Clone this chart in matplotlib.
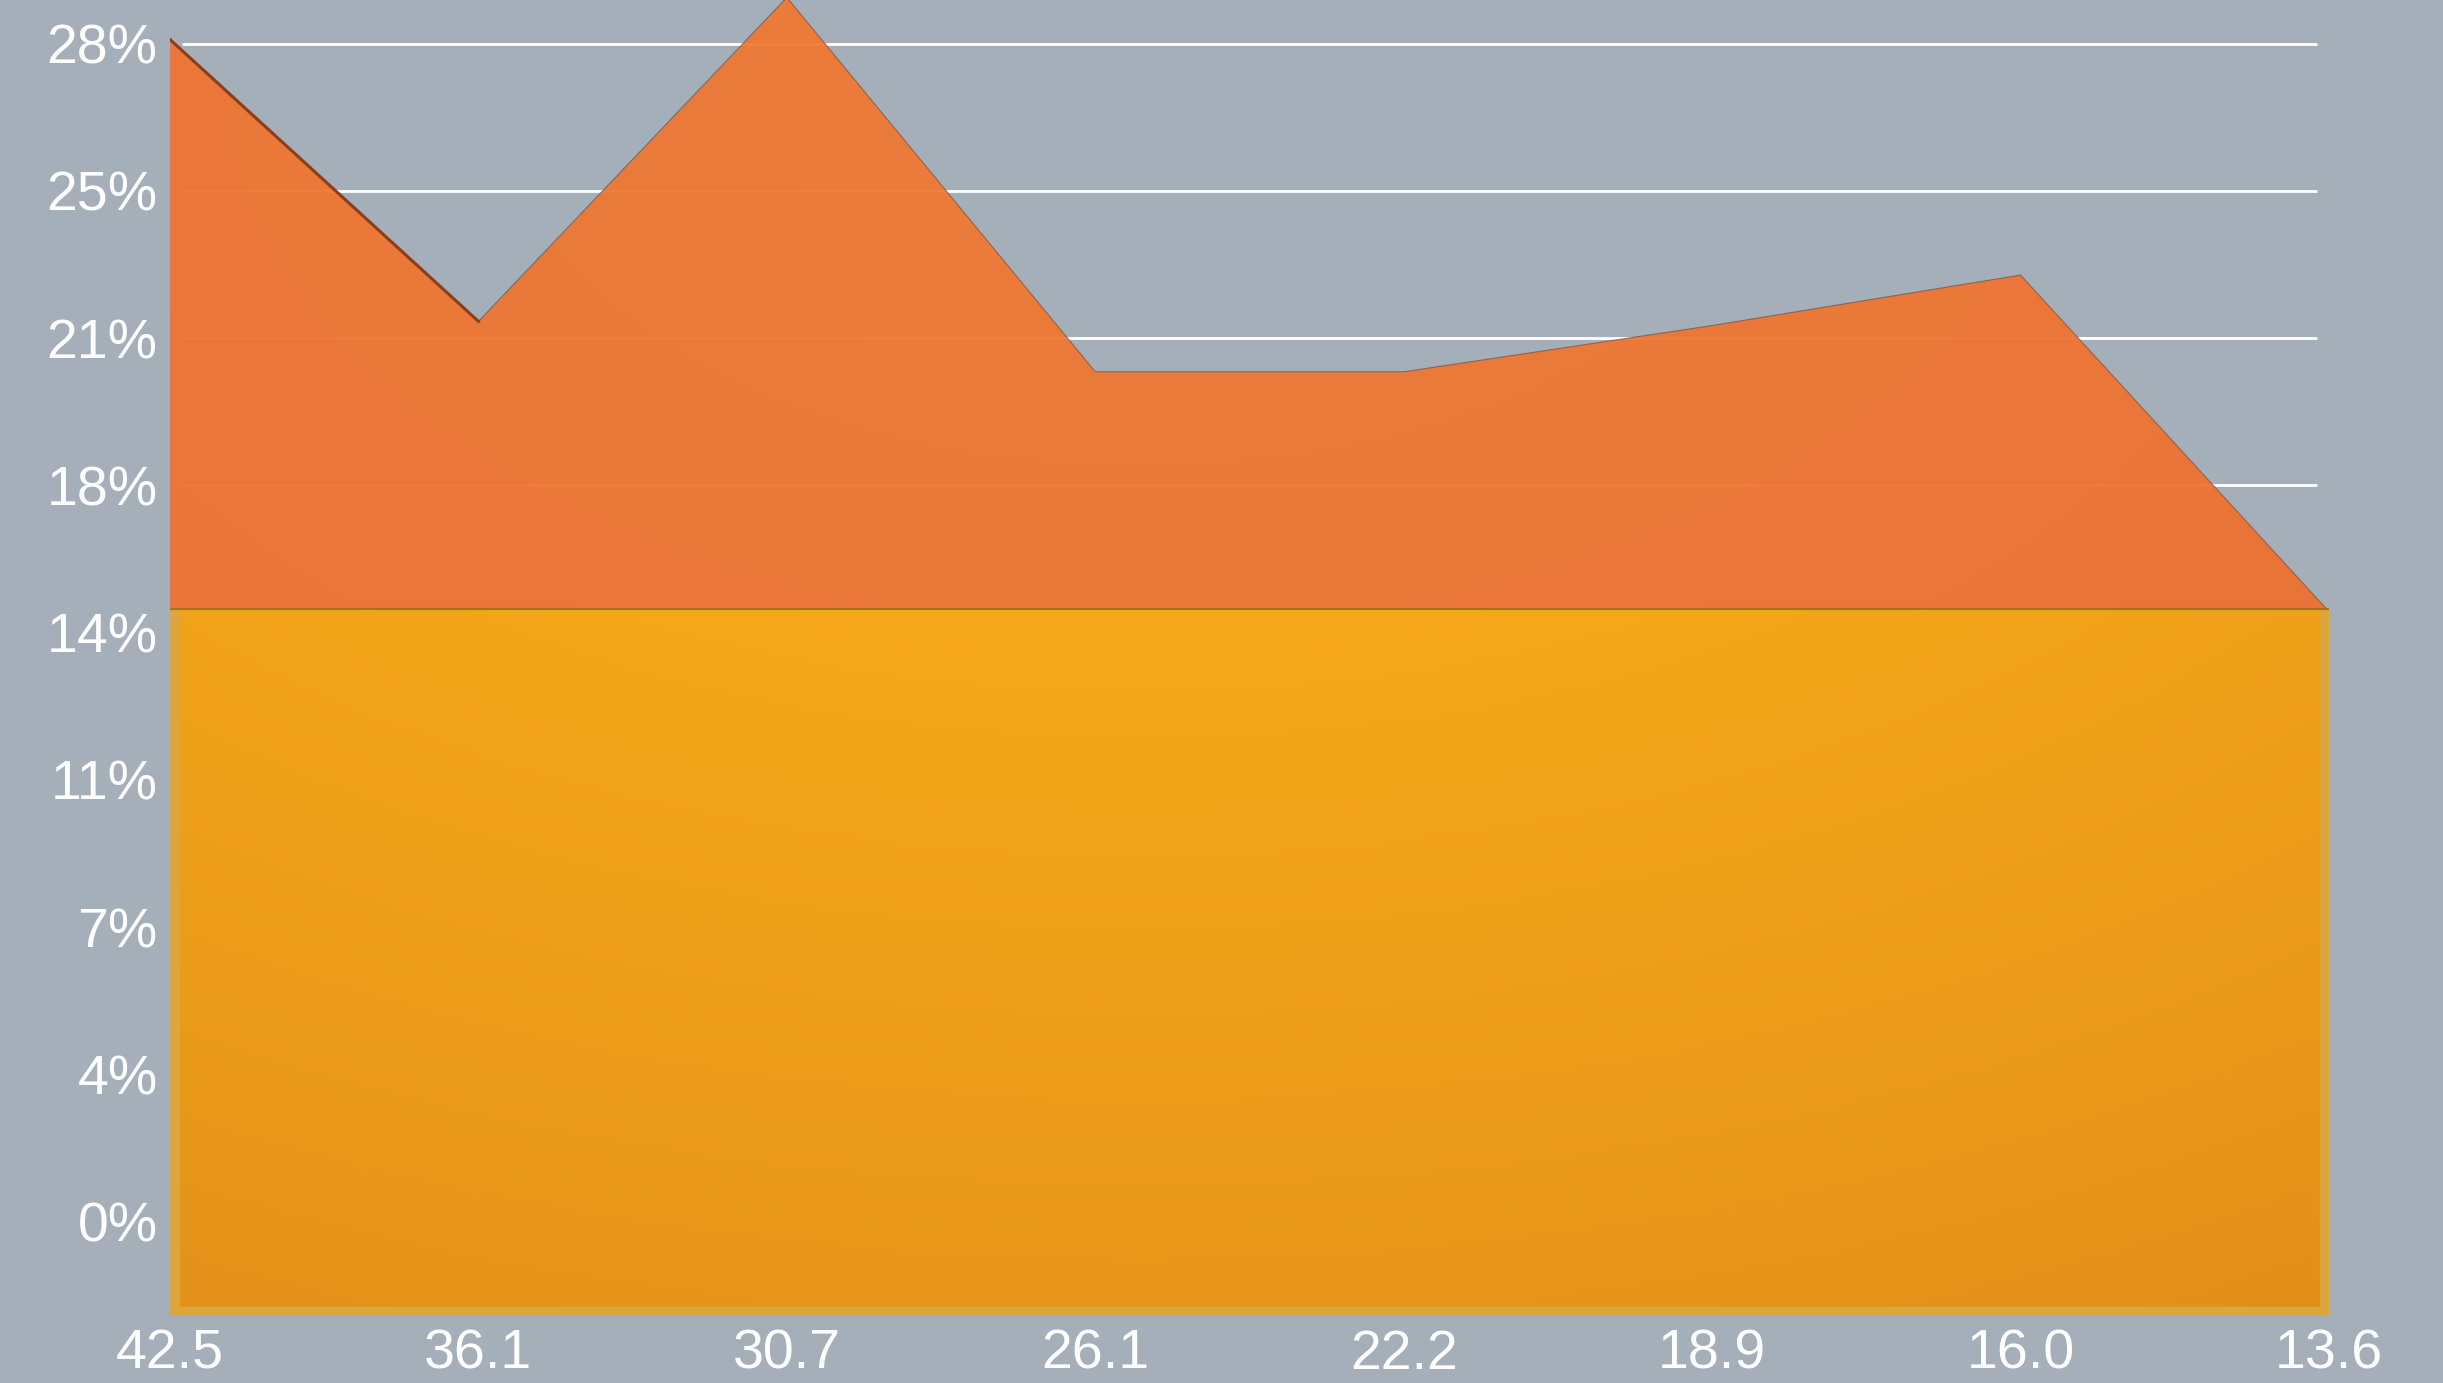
import numpy as np
import matplotlib
matplotlib.use("Agg")
import matplotlib.pyplot as plt

plt.rcParams['font.family'] = ['Liberation Sans', 'DejaVu Sans']

# data
categories = ["42.5", "36.1", "30.7", "26.1", "22.2", "18.9", "16.0", "13.6"]
upper_share = [28.1, 21.4, 29.1, 20.2, 20.2, 21.3, 22.5, 14.5]
base_share = [14.55, 14.55, 14.55, 14.55, 14.55, 14.55, 14.55, 14.55]
ytick_vals = [0, 3.5, 7, 10.5, 14, 17.5, 21, 24.5, 28]
ytick_labels = ["0%", "4%", "7%", "11%", "14%", "18%", "21%", "25%", "28%"]

bg = "#A5AFB9"
ymin, ymax = -2.26, 29.04

fig = plt.figure(figsize=(24.43, 13.83), dpi=100, facecolor=bg)
ax = fig.add_axes([0.0696, 0.0481, 0.8837, 0.9519])
ax.set_facecolor(bg)
x = np.arange(len(categories))
ax.set_xlim(0, len(categories) - 1)
ax.set_ylim(ymin, ymax)

# grid lines (slightly inset like the reference)
ax.hlines(ytick_vals, 0.04, len(categories) - 1.04, colors="white", lw=2, zorder=1)


def gradient(c_in, c_out, cx, cy, power=1.0, nx=300, ny=300):
    gx, gy = np.meshgrid(np.linspace(0, 1, nx), np.linspace(1, 0, ny))
    d = np.sqrt((gx - cx) ** 2 + (gy - cy) ** 2)
    d = (np.clip(d / d.max(), 0, 1) ** power)[..., None]
    return (np.array(c_in) * (1 - d) + np.array(c_out) * d) / 255.0


# upper (orange) area
poly_o = ax.fill_between(x, upper_share, ymin, color="none", lw=0, zorder=2)
img_o = ax.imshow(gradient((241, 124, 52), (235, 106, 48), 0.45, 0.95),
                  extent=[0, 7, ymin, ymax], aspect="auto", zorder=2, alpha=0.95)
img_o.set_clip_path(poly_o.get_paths()[0], transform=ax.transData)
ax.plot(x, upper_share, color="#7a5a4a", lw=0.8, alpha=0.8, zorder=3)
ax.plot(x[:2], upper_share[:2], color="#8a3f1c", lw=2.2, zorder=3)

# base (yellow) area
poly_y = ax.fill_between(x, base_share, ymin, color="none", lw=0, zorder=4)
ypath = poly_y.get_paths()[0]
img_y = ax.imshow(gradient((253, 178, 26), (226, 143, 25), 0.45, 1.0, power=1.5),
                  extent=[0, 7, ymin, ymax], aspect="auto", zorder=4)
img_y.set_clip_path(ypath, transform=ax.transData)

# light inner border on left, right and bottom
border_col = "#DDA63C"
b1 = ax.vlines([x[0], x[-1]], ymin, [base_share[0], base_share[-1]],
               colors=border_col, lw=14, zorder=5)
b2 = ax.hlines(ymin, x[0], x[-1], colors=border_col, lw=14, zorder=5)
for b in (b1, b2):
    b.set_clip_path(ypath, transform=ax.transData)
ax.plot(x, base_share, color="#A8701E", lw=1.5, zorder=6)

ax.set_xticks(x)
ax.set_xticklabels(categories)
ax.set_yticks(ytick_vals)
ax.set_yticklabels(ytick_labels)
ax.tick_params(axis="both", length=0, colors="white", labelsize=40)
ax.tick_params(axis="x", pad=9)
ax.tick_params(axis="y", pad=9)
for s in ax.spines.values():
    s.set_visible(False)

fig.savefig("out.png", dpi=100, facecolor=bg)
